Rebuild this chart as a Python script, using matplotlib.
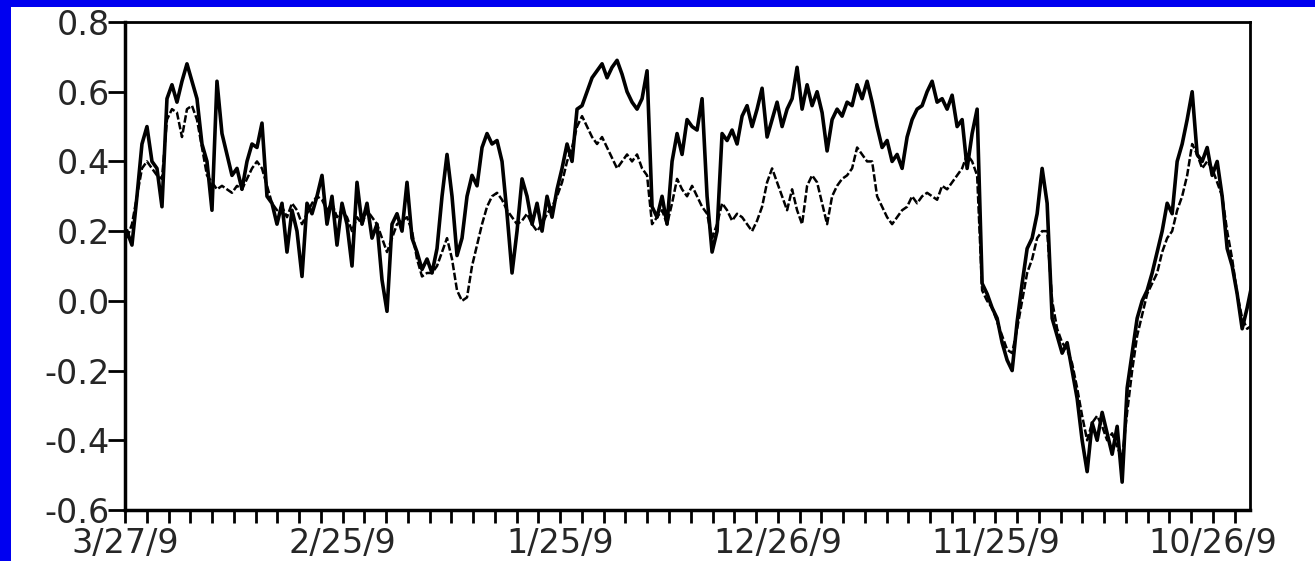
import numpy as np
import matplotlib
matplotlib.use("Agg")
import matplotlib.pyplot as plt
from matplotlib.patches import Rectangle

# values, one sample per ~5 px across the plot
solid = [
    0.20, 0.16, 0.30, 0.45, 0.50, 0.40, 0.38, 0.27, 0.58, 0.62,
    0.57, 0.63, 0.68, 0.63, 0.58, 0.45, 0.40, 0.26, 0.63, 0.48,
    0.42, 0.36, 0.38, 0.32, 0.40, 0.45, 0.44, 0.51, 0.30, 0.28,
    0.22, 0.28, 0.14, 0.26, 0.20, 0.07, 0.28, 0.25, 0.30, 0.36,
    0.22, 0.30, 0.16, 0.28, 0.22, 0.10, 0.34, 0.22, 0.28, 0.18,
    0.22, 0.06, -0.03, 0.22, 0.25, 0.20, 0.34, 0.18, 0.14, 0.09,
    0.12, 0.08, 0.15, 0.30, 0.42, 0.30, 0.13, 0.18, 0.30, 0.36,
    0.33, 0.44, 0.48, 0.45, 0.46, 0.40, 0.25, 0.08, 0.20, 0.35,
    0.30, 0.22, 0.28, 0.20, 0.30, 0.24, 0.32, 0.38, 0.45, 0.40,
    0.55, 0.56, 0.60, 0.64, 0.66, 0.68, 0.64, 0.67, 0.69, 0.65,
    0.60, 0.57, 0.55, 0.58, 0.66, 0.27, 0.24, 0.30, 0.22, 0.40,
    0.48, 0.42, 0.52, 0.50, 0.49, 0.58, 0.30, 0.14, 0.20, 0.48,
    0.46, 0.49, 0.45, 0.53, 0.56, 0.50, 0.55, 0.61, 0.47, 0.52,
    0.57, 0.50, 0.55, 0.58, 0.67, 0.55, 0.62, 0.56, 0.60, 0.54,
    0.43, 0.52, 0.55, 0.53, 0.57, 0.56, 0.62, 0.58, 0.63, 0.57,
    0.50, 0.44, 0.46, 0.40, 0.42, 0.38, 0.47, 0.52, 0.55, 0.56,
    0.60, 0.63, 0.57, 0.58, 0.55, 0.59, 0.50, 0.52, 0.38, 0.48,
    0.55, 0.05, 0.02, -0.02, -0.05, -0.12, -0.17, -0.20, -0.06, 0.05,
    0.15, 0.18, 0.25, 0.38, 0.28, -0.05, -0.10, -0.15, -0.12, -0.20,
    -0.28, -0.40, -0.49, -0.35, -0.40, -0.32, -0.38, -0.44, -0.36, -0.52,
    -0.25, -0.15, -0.05, 0.00, 0.03, 0.08, 0.14, 0.20, 0.28, 0.25,
    0.40, 0.45, 0.52, 0.60, 0.42, 0.40, 0.44, 0.36, 0.40, 0.30,
    0.15, 0.10, 0.02, -0.08, -0.02, 0.05,
]

dotted = [
    0.18, 0.22, 0.30, 0.38, 0.40, 0.38, 0.36, 0.35, 0.52, 0.55,
    0.54, 0.47, 0.55, 0.56, 0.52, 0.44, 0.36, 0.34, 0.32, 0.33,
    0.32, 0.31, 0.33, 0.32, 0.35, 0.38, 0.40, 0.38, 0.33, 0.28,
    0.26, 0.27, 0.24, 0.28, 0.26, 0.22, 0.25, 0.28, 0.30, 0.29,
    0.26, 0.28, 0.24, 0.26, 0.24, 0.20, 0.24, 0.22, 0.26, 0.24,
    0.22, 0.18, 0.14, 0.18, 0.22, 0.23, 0.24, 0.20, 0.12, 0.07,
    0.08, 0.08, 0.10, 0.14, 0.18, 0.12, 0.03, 0.00, 0.01, 0.10,
    0.16, 0.22, 0.27, 0.30, 0.31, 0.29, 0.26, 0.24, 0.22, 0.23,
    0.25, 0.22, 0.20, 0.22, 0.25, 0.27, 0.30, 0.34, 0.40, 0.44,
    0.50, 0.53, 0.50, 0.47, 0.45, 0.47, 0.44, 0.41, 0.38, 0.40,
    0.42, 0.40, 0.42, 0.38, 0.36, 0.22, 0.24, 0.26, 0.22, 0.28,
    0.35, 0.32, 0.30, 0.33, 0.30, 0.27, 0.25, 0.18, 0.22, 0.28,
    0.26, 0.23, 0.25, 0.24, 0.22, 0.20, 0.23, 0.27, 0.34, 0.38,
    0.34, 0.30, 0.26, 0.32, 0.26, 0.22, 0.33, 0.36, 0.34, 0.28,
    0.22, 0.30, 0.33, 0.35, 0.36, 0.38, 0.44, 0.42, 0.40, 0.40,
    0.30, 0.27, 0.24, 0.22, 0.24, 0.26, 0.27, 0.30, 0.28, 0.30,
    0.31, 0.30, 0.29, 0.33, 0.32, 0.34, 0.36, 0.38, 0.42, 0.40,
    0.36, 0.03, 0.00, -0.02, -0.06, -0.10, -0.14, -0.15, -0.08, 0.00,
    0.08, 0.12, 0.18, 0.20, 0.20, 0.00, -0.08, -0.12, -0.14, -0.18,
    -0.25, -0.33, -0.40, -0.35, -0.33, -0.36, -0.40, -0.38, -0.42, -0.45,
    -0.32, -0.20, -0.10, -0.04, 0.02, 0.05, 0.08, 0.14, 0.18, 0.20,
    0.26, 0.30, 0.36, 0.45, 0.42, 0.38, 0.40, 0.38, 0.34, 0.30,
    0.20, 0.12, 0.02, -0.05, -0.08, -0.07,
]

x_labels = ['3/27/9', '2/25/9', '1/25/9', '12/26/9', '11/25/9', '10/26/9']
y_ticks = [-0.6, -0.4, -0.2, 0.0, 0.2, 0.4, 0.6, 0.8]
y_labels = ['-0.6', '-0.4', '-0.2', '0.0', '0.2', '0.4', '0.6', '0.8']

# x in "tick units": minor tick every 1, label every 10
x = np.linspace(0.09, 51.8, len(solid))

fig = plt.figure(figsize=(13.15, 5.61), dpi=100)
fig.patch.set_facecolor('#0000f0')
# white slide area, blue strip only on top and left
fig.patches.append(Rectangle((11 / 1315, 0), 1, 1 - 7 / 561, transform=fig.transFigure,
                             facecolor='white', edgecolor='none', zorder=-10))

ax = fig.add_axes([125 / 1315, 1 - 510 / 561, 1125 / 1315, 488 / 561])
ax.set_facecolor('white')
ax.plot(x, dotted, color='black', linewidth=1.8, linestyle=(0, (3, 1)))
ax.plot(x, solid, color='black', linewidth=2.6)

ax.set_xlim(0, 51.7)
ax.set_ylim(-0.6, 0.8)

ax.set_xticks(np.arange(0, 51, 10))
ax.set_xticklabels(x_labels)
ax.set_xticks(np.arange(0, 52, 1), minor=True)
ax.set_yticks(y_ticks)
ax.set_yticklabels(y_labels)

for lab in ax.get_xticklabels() + ax.get_yticklabels():
    lab.set_fontsize(24)
    lab.set_color('#262626')

ax.tick_params(axis='x', which='both', direction='out', length=9.5, width=2, pad=3)
ax.tick_params(axis='y', which='major', direction='out', length=12, width=2, pad=-1)

for s in ax.spines.values():
    s.set_linewidth(2)
ax.spines['left'].set_linewidth(2.5)
ax.spines['bottom'].set_linewidth(2.5)

fig.savefig('out.png', dpi=100, facecolor=fig.get_facecolor())
